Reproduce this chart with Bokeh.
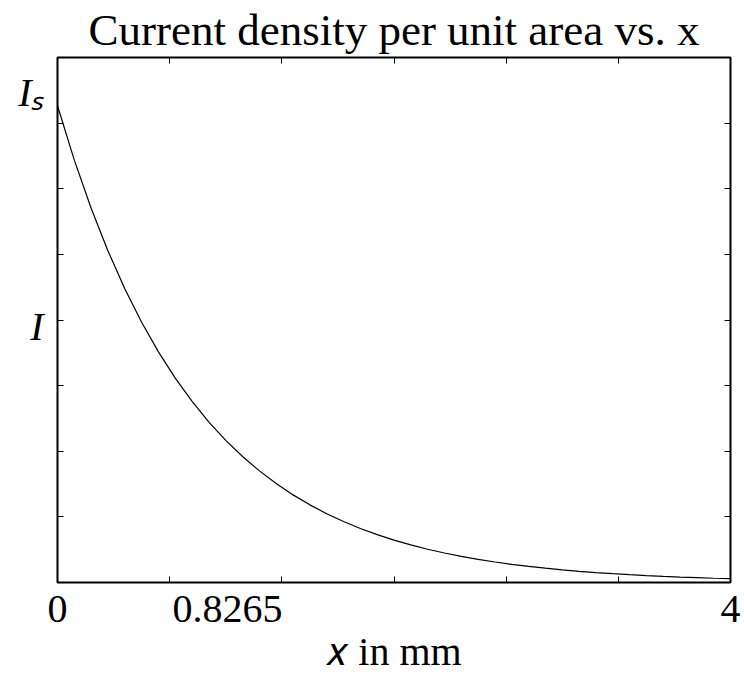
from bokeh.plotting import figure
from bokeh.models import Range1d, LinearAxis, FixedTicker
from bokeh.embed import file_html
from bokeh.resources import INLINE

# ---- data ----
x_mm = [0.0, 0.1, 0.2, 0.3, 0.4, 0.5, 0.6, 0.7, 0.8, 0.9,
        1.0, 1.1, 1.2, 1.3, 1.4, 1.5, 1.6, 1.7, 1.8, 1.9,
        2.0, 2.1, 2.2, 2.3, 2.4, 2.5, 2.6, 2.7, 2.8, 2.9,
        3.0, 3.1, 3.2, 3.3, 3.4, 3.5, 3.6, 3.7, 3.8, 3.9, 4.0]
current = [0.908, 0.8045, 0.7128, 0.6316, 0.5596, 0.4958, 0.4393, 0.3893, 0.3449, 0.3056,
           0.2708, 0.2399, 0.2126, 0.1884, 0.1669, 0.1479, 0.1310, 0.1161, 0.1029, 0.0911,
           0.0808, 0.0716, 0.0634, 0.0562, 0.0498, 0.0441, 0.0391, 0.0346, 0.0307, 0.0272,
           0.0241, 0.0213, 0.0189, 0.0168, 0.0149, 0.0132, 0.0117, 0.0103, 0.0092, 0.0081, 0.0072]

x_label_ticks = [0, 1.01, 4]
x_label_texts = ["0", "0.8265", "4"]
x_mark_ticks = [0.6667, 1.3333, 2.0, 2.6667, 3.3333]
y_label_ticks = [0.487, 0.933]
y_label_texts = ["I", "I\u209b"]
y_mark_ticks = [0.125, 0.25, 0.375, 0.5, 0.625, 0.75, 0.875]

FONT = "Liberation Serif"
FS = "40px"

p = figure(width=744, height=677, output_backend="svg", toolbar_location=None,
           x_range=Range1d(0, 4), y_range=Range1d(0, 1),
           min_border_left=57, min_border_right=14, min_border_top=57, min_border_bottom=95,
           x_axis_location=None, y_axis_location=None)
p.grid.visible = False
p.outline_line_color = "black"
p.outline_line_width = 2
p.background_fill_color = "white"
p.border_fill_color = "white"

p.title.text = "Current density per unit area vs. x"
p.title.text_font = FONT
p.title.text_font_size = "45px"
p.title.text_font_style = "normal"
p.title.text_color = "black"
p.title.align = "center"
p.title.standoff = 5


def mk_axis(ticks, minor, labels=None):
    ax = LinearAxis(ticker=FixedTicker(ticks=ticks, minor_ticks=minor))
    ax.axis_line_color = None
    ax.major_tick_in = 0
    ax.major_tick_out = 0
    ax.minor_tick_in = 6
    ax.minor_tick_out = 0
    ax.minor_tick_line_color = "black"
    ax.minor_tick_line_width = 1
    ax.major_label_text_font = FONT
    ax.major_label_text_font_size = FS
    ax.major_label_text_color = "black"
    ax.axis_label_text_font = FONT
    ax.axis_label_text_font_size = FS
    ax.axis_label_text_color = "black"
    ax.axis_label_text_font_style = "normal"
    if labels is not None:
        ax.major_label_overrides = {t: s for t, s in zip(ticks, labels)}
    else:
        ax.major_label_standoff = 0
        ax.axis_label_standoff = 0
    return ax


bottom = mk_axis(x_label_ticks, x_mark_ticks, x_label_texts)
bottom.major_label_standoff = 13
bottom.axis_label = "\U0001d465 in mm"
bottom.axis_label_standoff = 4
p.add_layout(bottom, "below")
p.add_layout(mk_axis([], x_mark_ticks), "above")

left = mk_axis(y_label_ticks, y_mark_ticks, y_label_texts)
left.major_label_text_font_style = "italic"
left.major_label_standoff = 14
left.major_label_orientation = "horizontal"
p.add_layout(left, "left")
p.add_layout(mk_axis([], y_mark_ticks), "right")

p.line(x_mm, current, line_color="black", line_width=1.2)

open("out.html", "w").write(file_html(p, INLINE))
